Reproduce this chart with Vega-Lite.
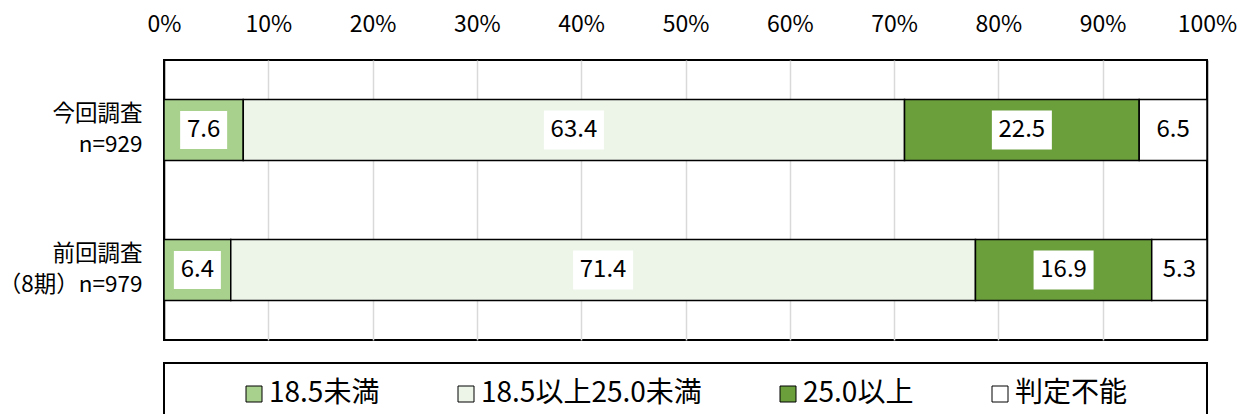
{
  "$schema": "https://vega.github.io/schema/vega-lite/v6.json",
  "autosize": {"type": "pad"},
  "padding": {"left": -3, "top": 12, "right": 0, "bottom": 0},
  "background": "white",
  "bounds": "flush",
  "spacing": 23,
  "config": {
    "view": {"stroke": "black", "strokeWidth": 2},
    "font": "Noto Sans CJK JP"
  },
  "datasets": {
    "bmi": [
      {"survey": "今回調査\nn=929\u3000", "cat": "18.5未満", "k": 1, "v": 7.6},
      {"survey": "今回調査\nn=929\u3000", "cat": "18.5以上25.0未満", "k": 2, "v": 63.4},
      {"survey": "今回調査\nn=929\u3000", "cat": "25.0以上", "k": 3, "v": 22.5},
      {"survey": "今回調査\nn=929\u3000", "cat": "判定不能", "k": 4, "v": 6.5},
      {"survey": "前回調査\u2002\n（8期）n=979", "cat": "18.5未満", "k": 1, "v": 6.4},
      {"survey": "前回調査\u2002\n（8期）n=979", "cat": "18.5以上25.0未満", "k": 2, "v": 71.4},
      {"survey": "前回調査\u2002\n（8期）n=979", "cat": "25.0以上", "k": 3, "v": 16.9},
      {"survey": "前回調査\u2002\n（8期）n=979", "cat": "判定不能", "k": 4, "v": 5.3}
    ],
    "cats": [
      {"cat": "18.5未満"},
      {"cat": "18.5以上25.0未満"},
      {"cat": "25.0以上"},
      {"cat": "判定不能"}
    ]
  },
  "resolve": {
    "scale": {"x": "independent", "y": "independent"},
    "legend": {"color": "independent"}
  },
  "vconcat": [
    {
      "width": 1043,
      "height": 280,
      "data": {"name": "bmi"},
      "transform": [
        {"stack": "v", "groupby": ["survey"], "sort": [{"field": "k"}], "as": ["x0", "x1"]},
        {"calculate": "(datum.x0 + datum.x1) / 2", "as": "xm"}
      ],
      "encoding": {
        "y": {
          "field": "survey",
          "type": "nominal",
          "scale": {
            "domain": ["今回調査\nn=929\u3000", "前回調査\u2002\n（8期）n=979"],
            "paddingInner": 0,
            "paddingOuter": 0
          },
          "axis": {
            "title": null,
            "ticks": false,
            "tickSize": 0,
            "domain": false,
            "grid": false,
            "labelExpr": "split(datum.label, '\\n')",
            "labelFont": "Noto Sans CJK JP",
            "labelFontSize": 22.5,
            "labelLineHeight": 31,
            "labelPadding": 22,
            "labelOffset": -16,
            "labelColor": "black",
            "labelAlign": "right",
            "labelBaseline": "middle",
            "labelLimit": 400
          }
        }
      },
      "layer": [
        {
          "mark": {"type": "bar", "stroke": "black", "strokeWidth": 1.5, "height": 61},
          "encoding": {
            "x": {
              "field": "x0",
              "type": "quantitative",
              "title": null,
              "scale": {"domain": [0, 100], "nice": false},
              "axis": {
                "orient": "top",
                "title": null,
                "values": [0, 10, 20, 30, 40, 50, 60, 70, 80, 90, 100],
                "labelExpr": "datum.value + '%'",
                "ticks": false,
                "tickSize": 0,
                "domain": false,
                "grid": true,
                "gridColor": {
                  "condition": {"test": "datum.value == 0 || datum.value == 100", "value": "black"},
                  "value": "#d9d9d9"
                },
                "gridWidth": 1.5,
                "labelFont": "Noto Sans CJK JP",
                "labelFontSize": 23,
                "labelPadding": 24,
                "labelColor": "black",
                "labelFlush": false,
                "labelOverlap": false
              }
            },
            "x2": {"field": "x1"},
            "color": {
              "field": "cat",
              "type": "nominal",
              "scale": {
                "domain": ["18.5未満", "18.5以上25.0未満", "25.0以上", "判定不能"],
                "range": ["#a9d18e", "#edf4e8", "#6b9f3c", "#ffffff"]
              },
              "legend": null
            }
          }
        },
        {
          "transform": [{"filter": "datum.k <= 3"}],
          "mark": {"type": "point", "filled": true, "fill": "white", "opacity": 1, "size": 4, "strokeWidth": 0},
          "encoding": {
            "x": {"field": "xm", "type": "quantitative", "title": null},
            "shape": {
              "condition": {"test": "datum.v < 10", "value": "M-23.5,-19H23.5V19H-23.5Z"},
              "value": "M-30,-19.5H30V19.5H-30Z"
            }
          }
        },
        {
          "mark": {"type": "text", "fontSize": 24, "color": "black", "font": "Noto Sans CJK JP", "baseline": "middle", "align": "center"},
          "encoding": {
            "x": {"field": "xm", "type": "quantitative", "title": null},
            "text": {"field": "v", "type": "quantitative", "format": ".1f"}
          }
        }
      ]
    },
    {
      "width": 1043,
      "height": 60,
      "view": {"stroke": "black", "strokeWidth": 2},
      "data": {"name": "cats"},
      "mark": {"type": "point", "filled": true, "size": 0},
      "encoding": {
        "x": {"field": "cat", "type": "nominal", "axis": null},
        "y": {"field": "cat", "type": "nominal", "axis": null},
        "color": {
          "field": "cat",
          "type": "nominal",
          "scale": {
            "domain": ["18.5未満", "18.5以上25.0未満", "25.0以上", "判定不能"],
            "range": ["#a9d18e", "#edf4e8", "#6b9f3c", "#ffffff"]
          },
          "legend": {
            "orient": "none",
            "legendX": 76,
            "legendY": 17,
            "direction": "horizontal",
            "title": null,
            "symbolType": "square",
            "symbolSize": 256,
            "symbolStrokeColor": "black",
            "symbolStrokeWidth": 1,
            "symbolOpacity": 1,
            "labelFont": "Noto Sans CJK JP",
            "labelFontSize": 28,
            "labelColor": "black",
            "labelOffset": 1,
            "labelLimit": 400,
            "columnPadding": 72,
            "padding": 0
          }
        }
      }
    }
  ]
}
